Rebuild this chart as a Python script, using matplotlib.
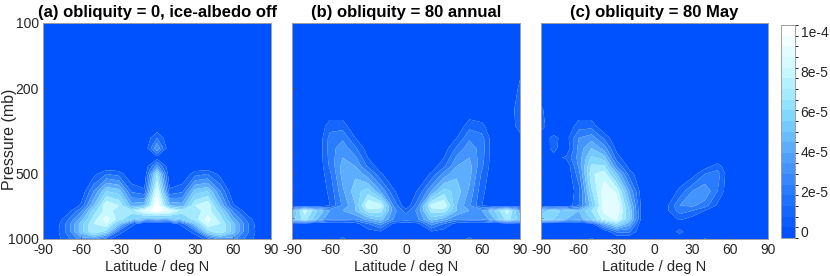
import numpy as np
import matplotlib
matplotlib.use("Agg")
import matplotlib.pyplot as plt
from matplotlib.colors import LinearSegmentedColormap, ListedColormap, BoundaryNorm
from matplotlib.cm import ScalarMappable
from matplotlib.ticker import FixedLocator, NullFormatter

plt.rcParams['font.family'] = ['Liberation Sans', 'DejaVu Sans']

# grid (values in units of 1e-5)
lats = [-90, -80, -70, -60, -50, -40, -30, -20, -10, 0, 10, 20, 30, 40, 50, 60, 70, 80, 90]
pressure = [100, 200, 250, 300, 340, 380, 420, 460, 500, 600, 700, 740, 810, 850, 925, 1000]

# (a) obliquity = 0, ice-albedo off
field_a = [
    [0, 0, 0, 0, 0, 0, 0, 0, 0, 0, 0, 0, 0, 0, 0, 0, 0, 0, 0],
    [0, 0, 0, 0, 0, 0, 0, 0, 0, 0, 0, 0, 0, 0, 0, 0, 0, 0, 0],
    [0, 0, 0, 0, 0, 0, 0, 0, 0, 0, 0, 0, 0, 0, 0, 0, 0, 0, 0],
    [0, 0, 0, 0, 0, 0, 0, 0, 0, 0, 0, 0, 0, 0, 0, 0, 0, 0, 0],
    [0, 0, 0, 0, 0, 0, 0, 0, 0, 2.0, 0, 0, 0, 0, 0, 0, 0, 0, 0],
    [0, 0, 0, 0, 0, 0, 0, 0, 0, 4.0, 0, 0, 0, 0, 0, 0, 0, 0, 0],
    [0, 0, 0, 0, 0, 0, 0, 0, 0, 0.5, 0, 0, 0, 0, 0, 0, 0, 0, 0],
    [0, 0, 0, 0, 0, 0, 0, 0, 0, 3.5, 0, 0, 0, 0, 0, 0, 0, 0, 0],
    [0, 0, 0, 0, 0.6, 2.0, 1.6, 0, 0, 7.0, 0, 0, 1.6, 2.0, 0.6, 0, 0, 0, 0],
    [0, 0, 0, 0, 3.0, 6.0, 5.5, 1.8, 1.2, 9.5, 1.2, 1.8, 5.5, 6.0, 3.0, 0, 0, 0, 0],
    [0, 0, 0, 1.2, 5.0, 9.0, 8.0, 4.5, 5.0, 11.0, 5.0, 4.5, 8.0, 9.0, 5.0, 1.2, 0, 0, 0],
    [0, 0, 0.5, 2.8, 6.5, 8.5, 7.5, 7.5, 9.5, 10.5, 9.5, 7.5, 7.5, 8.5, 6.5, 2.8, 0.5, 0, 0],
    [0, 0, 2.0, 4.5, 7.5, 9.5, 7.5, 6.0, 5.0, 4.5, 5.0, 6.0, 7.5, 9.5, 7.5, 4.5, 2.0, 0, 0],
    [0, 0.3, 2.5, 5.5, 8.0, 9.0, 5.5, 1.5, 0, 0, 0, 1.5, 5.5, 9.0, 8.0, 5.5, 2.5, 0.3, 0],
    [0, 0.5, 2.5, 5.5, 8.0, 6.5, 1.6, 0, 0, 0, 0, 0, 1.6, 6.5, 8.0, 5.5, 2.5, 0.5, 0],
    [0, 0.5, 1.8, 3.5, 3.5, 1.5, 0, 0, 0, 0, 0, 0, 0, 1.5, 3.5, 3.5, 1.8, 0.5, 0],
]

# (b) obliquity = 80 annual
field_b = [
    [0, 0, 0, 0, 0, 0, 0, 0, 0, 0, 0, 0, 0, 0, 0, 0, 0, 0, 0],
    [0, 0, 0, 0, 0, 0, 0, 0, 0, 0, 0, 0, 0, 0, 0, 0, 0, 0, 1.2],
    [0, 0, 0, 0, 0, 0, 0, 0, 0, 0, 0, 0, 0, 0, 0, 0, 0, 0, 1.8],
    [0, 0, 0, 1.6, 1.6, 0, 0, 0, 0, 0, 0, 0, 0, 0, 1.7, 1.3, 0, 0, 1.6],
    [0, 0, 0, 2.4, 2.8, 1.0, 0, 0, 0, 0, 0, 0, 0, 1.0, 2.8, 2.4, 0, 0, 0.5],
    [0, 0, 0, 2.5, 3.6, 2.2, 0.4, 0, 0, 0, 0, 0, 0.4, 2.2, 3.6, 2.5, 0, 0, 0],
    [0, 0, 0, 2.4, 4.0, 3.2, 1.0, 0, 0, 0, 0, 0, 1.0, 3.2, 4.0, 2.4, 0, 0, 0],
    [0, 0, 0, 2.2, 4.4, 4.0, 1.8, 0.3, 0, 0, 0, 0.3, 1.8, 4.0, 4.4, 2.2, 0, 0, 0],
    [0, 0, 0, 1.8, 4.4, 4.8, 3.4, 1.2, 0, 0, 0, 1.2, 3.4, 4.8, 4.4, 1.8, 0, 0, 0],
    [0, 0, 0, 1.3, 3.8, 5.6, 6.5, 4.0, 1.2, 0, 1.2, 4.0, 6.5, 5.6, 3.8, 1.3, 0, 0, 0],
    [0, 0, 0, 1.0, 3.2, 5.0, 9.0, 8.5, 3.0, 0, 3.0, 8.5, 9.0, 5.0, 3.2, 1.0, 0, 0, 0],
    [4.5, 8.5, 6.0, 4.0, 4.0, 5.0, 7.5, 7.5, 3.5, 1.5, 3.5, 7.5, 7.5, 5.0, 4.0, 4.0, 6.0, 8.5, 4.5],
    [5.5, 7.5, 5.0, 3.0, 3.0, 3.0, 4.5, 5.5, 3.0, 3.0, 3.0, 5.5, 4.5, 3.0, 3.0, 3.0, 5.0, 7.5, 5.5],
    [0.3, 0.3, 0, 0, 0, 0.5, 2.0, 3.5, 0.8, 0, 0.8, 3.5, 2.0, 0.5, 0, 0, 0, 0.3, 0.3],
    [0, 0, 0, 0, 0, 0, 0.5, 0.9, 0, 0, 0, 0.9, 0.5, 0, 0, 0, 0, 0, 0],
    [0, 0, 0, 0, 1.3, 0, 0, 0, 0, 0, 0, 0, 0, 0, 1.3, 0, 0, 0, 0],
]

# (c) obliquity = 80 May
field_c = [
    [0, 0, 0, 0, 0, 0, 0, 0, 0, 0, 0, 0, 0, 0, 0, 0, 0, 0, 0],
    [0, 0, 0, 0, 0, 0, 0, 0, 0, 0, 0, 0, 0, 0, 0, 0, 0, 0, 0],
    [1.2, 0, 0, 0, 0, 0, 0, 0, 0, 0, 0, 0, 0, 0, 0, 0, 0, 0, 0],
    [1.5, 0, 0, 1.6, 1.6, 0, 0, 0, 0, 0, 0, 0, 0, 0, 0, 0, 0, 0, 0],
    [0.3, 1.3, 0.5, 3.0, 3.6, 1.8, 0, 0, 0, 0, 0, 0, 0, 0, 0, 0, 0, 0, 0],
    [0, 1.4, 0, 3.4, 5.0, 3.6, 0.6, 0, 0, 0, 0, 0, 0, 0, 0, 0, 0, 0, 0],
    [0, 0.6, 1.2, 3.4, 6.2, 5.5, 1.5, 0, 0, 0, 0, 0, 0, 0, 0, 0, 0, 0, 0],
    [0, 0, 0, 3.2, 7.2, 7.2, 3.0, 0.6, 0, 0, 0, 0, 0, 0.5, 1.5, 0, 0, 0, 0],
    [0, 0, 0, 2.6, 7.8, 8.6, 5.2, 1.6, 0, 0, 0, 0, 0.5, 2.0, 2.5, 0, 0, 0, 0],
    [0, 0, 0, 1.6, 6.8, 9.6, 8.8, 4.0, 0.3, 0, 0, 1.3, 3.0, 3.8, 2.0, 0, 0, 0, 0],
    [0, 0, 0, 2.0, 5.5, 9.6, 10.0, 5.5, 0.5, 0, 0.8, 3.0, 3.2, 2.5, 0.8, 0, 0, 0, 0],
    [5.5, 6.5, 5.5, 5.0, 7.0, 9.2, 9.8, 6.0, 0.5, 0, 0.8, 2.5, 2.0, 1.0, 0, 0, 0, 0, 0],
    [6.5, 6.0, 5.0, 4.5, 6.0, 8.5, 9.2, 6.0, 0.5, 0, 0, 1.2, 0.5, 0, 0, 0, 0, 0, 0],
    [0, 0, 0, 0, 0.5, 4.5, 7.0, 4.5, 0, 0, 0, 0, 0, 0, 0, 0, 0, 0, 0],
    [0, 0, 0, 0, 0, 0, 2.2, 2.2, 0, 0, 0, 1.4, 0, 0, 0, 0, 0, 0, 0],
    [0, 0, 0, 0, 1.2, 0, 0, 0, 0, 0, 0, 0, 0, 1.1, 0, 0, 0, 0, 0],
]

titles = ['(a) obliquity = 0, ice-albedo off', '(b) obliquity = 80 annual', '(c) obliquity = 80 May']
xticks = [-90, -60, -30, 0, 30, 60, 90]
yticks = [100, 200, 500, 1000]
cbar_ticks = [0, 2e-5, 4e-5, 6e-5, 8e-5, 1e-4]
cbar_labels = ['0', '2e-5', '4e-5', '6e-5', '8e-5', '1e-4']

# 20-shade colour map, colour limits slightly wider than 0..1e-4
vmin, vmax = -0.3e-5, 10.3e-5
base = LinearSegmentedColormap.from_list('iceblue', [
    (0.00, (0 / 255, 82 / 255, 1.0)),
    (0.20, (40 / 255, 122 / 255, 1.0)),
    (0.40, (88 / 255, 168 / 255, 1.0)),
    (0.60, (135 / 255, 220 / 255, 1.0)),
    (0.80, (200 / 255, 250 / 255, 1.0)),
    (1.00, (1.0, 1.0, 1.0)),
])
shades = ListedColormap(base(np.linspace(0, 1, 20)))
bounds = np.linspace(vmin, vmax, 21)
cnorm = BoundaryNorm(bounds, 20)

# contour levels every 1e-5; each band filled with the colour of its lower level
levels = [vmin] + [k * 1e-5 for k in range(1, 11)] + [20e-5]
fill_colors = [shades(cnorm(vmin))] + [shades(cnorm(k * 1e-5)) for k in range(1, 11)]

text_col = '#262626'
fig = plt.figure(figsize=(8.3, 2.76), dpi=100)
W, H = 830, 276
panels = [(43, 271), (292, 520), (541, 768)]
top, bottom = 23, 239

LAT, P = np.meshgrid(lats, pressure)
for i, (field, title, (x0, x1)) in enumerate(zip([field_a, field_b, field_c], titles, panels)):
    ax = fig.add_axes([x0 / W, 1 - bottom / H, (x1 - x0) / W, (bottom - top) / H])
    Z = np.array(field) * 1e-5
    ax.contourf(LAT, P, Z, levels=levels, colors=fill_colors, antialiased=True)
    ax.set_yscale('log')
    ax.set_ylim(1000, 100)
    ax.set_xlim(-90, 90)
    ax.set_xticks(xticks)
    ax.set_xticklabels([str(t) for t in xticks])
    ax.yaxis.set_major_locator(FixedLocator(yticks))
    ax.yaxis.set_minor_locator(FixedLocator([300, 400, 600, 700, 800, 900]))
    ax.yaxis.set_minor_formatter(NullFormatter())
    if i == 0:
        ax.set_yticklabels([str(t) for t in yticks])
        ax.set_ylabel('Pressure (mb)', fontsize=11.5, color=text_col)
        # label anchor is its right edge
        ax.yaxis.set_label_coords(-0.112, 0.46)
    else:
        ax.set_yticklabels([])
    ax.set_xlabel('Latitude / deg N', fontsize=10.5, color=text_col, labelpad=2)
    ax.set_title(title, fontsize=12, fontweight='bold', color='#000000', pad=4)
    ax.tick_params(which='both', direction='in', colors='#555555', labelcolor=text_col,
                   labelsize=10, top=False, right=False, pad=3)
    ax.tick_params(which='major', length=2.5, width=0.5)
    ax.tick_params(which='minor', length=1.5, width=0.5)
    for s in ax.spines.values():
        s.set_color('#a0a0a0')
        s.set_linewidth(0.7)

cax = fig.add_axes([781 / W, 1 - 238 / H, 14 / W, (238 - 25) / H])
sm = ScalarMappable(norm=cnorm, cmap=shades)
cb = fig.colorbar(sm, cax=cax, ticks=cbar_ticks)
cb.ax.set_yticklabels(cbar_labels)
cb.ax.tick_params(labelsize=10, length=0, colors=text_col, pad=4)
cb.outline.set_edgecolor('#a0a0a0')
cb.outline.set_linewidth(0.7)

fig.savefig('out.png', dpi=100)
